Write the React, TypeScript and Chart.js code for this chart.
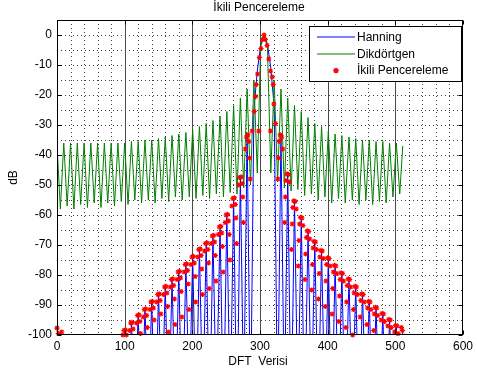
import React, { useEffect, useRef } from 'react';
import { Chart, registerables } from 'chart.js';

Chart.register(...registerables);

// ---- text ----
const TITLE = 'İkili Pencereleme';
const X_LABEL = 'DFT  Verisi';
const Y_LABEL = 'dB';
const SERIES_NAMES = ['Hanning', 'Dikdörtgen', 'İkili Pencereleme'];

// ---- axis ticks ----
const xTicks = [0, 100, 200, 300, 400, 500, 600];
const yTicks = [0, -10, -20, -30, -40, -50, -60, -70, -80, -90, -100];
const xMinorGrid = [20, 40, 60, 80, 120, 140, 160, 180, 220, 240, 260, 280, 320, 340, 360, 380, 420, 440, 460, 480, 520, 540, 560, 580];
const yMinorGrid = [0, -5, -10, -15, -20, -25, -30, -35, -40, -45, -50, -55, -60, -65, -70, -75, -80, -85, -90, -95];

// ---- DFT bins (sidelobe peaks and nulls) ----
const bins = [
  0, 5, 10, 15, 20, 25, 30, 35, 40, 45, 50, 55, 60, 65, 70, 75, 80, 85, 90, 95,
  100, 105, 110, 115, 120, 125, 130, 135, 140, 145, 150, 155, 160, 165, 170, 175, 180, 185,
  190.5, 195.5, 200.5, 205.5, 210.5, 215.5, 220.5, 225.5, 230.5, 235.5,
  241, 246, 251, 256, 261, 266, 271, 276, 281, 286, 291, 296, 301, 306, 311, 316, 321, 326,
  331, 336, 341, 346, 351, 356, 361, 366, 371, 376, 381, 386, 391, 396, 401, 406, 411, 416, 421, 426,
  431.5, 436.5, 441.5, 446.5, 451.5, 456.5, 461.5, 466.5, 471.5, 476.5, 481.5, 486.5, 491.5, 496.5, 501.5, 506.5,
  511,
];

// Dikdörtgen (rectangular window), dB
const rectDb = [
  -36.5, -58, -36, -57, -36, -58, -36, -56.5, -36, -57.5, -36, -56, -36, -57.5, -36, -56, -36, -57, -36, -55.5,
  -36, -56.5, -35.5, -55, -35.5, -56, -35, -55, -35, -56, -34.5, -54.5, -34, -55.5, -33.5, -54, -33, -55,
  -32.5, -54, -31.5, -54.5, -30.5, -53.5, -29.5, -54.5, -28.5, -53,
  -27, -54, -25.5, -52.5, -23.5, -53, -21, -51, -18, -50, -15, -46, -3.9, 0, -3.9, -46, -15, -49,
  -18, -51, -21, -52, -23.5, -51.5, -25.5, -53.5, -27.5, -53, -29.5, -55, -30.5, -54, -32, -56, -33, -54.5, -33.5, -56,
  -34, -55, -34.5, -56.5, -35, -55, -35, -56.5, -35.5, -55.5, -35.5, -56, -36, -54, -36, -53,
  -37,
];

// Hanning window, dB
const hannDb = [
  -99, -128, -104, -124, -107, -131, -109, -126, -110, -133, -109, -127, -108, -130, -106, -125, -104, -132, -101, -127,
  -98, -131, -95.5, -124, -93, -129, -91, -126, -88.5, -133, -86, -125, -83.5, -130, -81, -127, -78.5, -132,
  -76, -124, -73.5, -129, -71, -126, -69, -131, -66.5, -125,
  -63.5, -130, -59.5, -127, -54, -132, -47, -124, -33, -129, -25, -12, -3.5, 0, -3, -11, -24, -128,
  -33, -125, -46, -131, -55, -126, -60.5, -130, -65, -124, -68.5, -129, -71.5, -127, -74, -132, -76.5, -125, -79, -130,
  -81, -126, -83.5, -131, -86, -124, -88.5, -129, -90.5, -127, -92.5, -132, -94.5, -125, -96.5, -130,
  -98,
];

// İkili Pencereleme (double windowing) samples [bin, dB]
const dualPoints: [number, number][] = [
  [0, -97.7], [2, -99.5], [7, -99],
  [97.5, -100], [99, -98.5], [101, -98.3], [102.5, -100],
  [107.5, -98.5], [109, -96], [111, -95.8], [112.5, -98],
  [117.5, -96], [119, -93.5], [121, -93.3], [122.5, -95.5], [123.5, -99.5],
  [127.5, -94], [129, -91.5], [131, -91.3], [132.5, -93.5], [133.5, -97.5],
  [137.5, -91.5], [139, -89], [141, -88.8], [142.5, -91], [143.5, -95],
  [147.5, -89], [149, -86.5], [151, -86.3], [152.5, -88.5], [153.5, -93],
  [157.5, -86.5], [159, -84], [161, -83.8], [162.5, -86], [163.5, -90.5], [164.5, -99],
  [167.5, -84], [169, -81.5], [171, -81.3], [172.5, -83.5], [173.5, -88], [174.5, -96.5],
  [177.5, -81.5], [179, -79], [181, -78.8], [182.5, -81], [183.5, -85.5], [184.5, -94],
  [188, -79], [189.5, -76.5], [191.5, -76.3], [193, -78.5], [194, -83], [195, -91.5],
  [198, -76.5], [199.5, -74], [201.5, -73.8], [203, -76], [204, -80.5], [205, -89],
  [208, -74], [209.5, -71.5], [211.5, -71.3], [213, -73.5], [214, -78], [215, -86.5],
  [218, -72], [219.5, -69.5], [221.5, -69.3], [223, -71.5], [224, -76], [225, -84.5],
  [228, -69.5], [229.5, -67], [231.5, -66.8], [233, -69], [234, -73.5], [235, -82],
  [238.5, -66.5], [240, -64], [242, -63.8], [243.5, -66], [244.5, -70.5], [245.5, -79],
  [248.5, -62.5], [250, -60], [252, -59.8], [253.5, -62], [254.5, -66.5], [255.5, -75],
  [258.5, -57], [260, -54.5], [262, -54.3], [263.5, -56.5], [264.5, -61], [265.5, -69.5],
  [268.5, -50], [270, -47.5], [272, -47.3], [273.5, -49.5], [274.5, -54], [275.5, -62.5],
  [278.5, -38], [280, -34], [282, -33.3], [283.5, -35.5], [284.5, -41], [285.5, -48],
  [288.5, -32], [291.5, -25.5], [293.5, -20.5], [294.5, -16.5], [296.5, -13], [298.5, -32],
  [299, -7.5], [301.5, -4.5], [304, -1.5], [306, 0], [308, -1.5], [310.5, -3.5], [313, -8],
  [315.5, -12], [315.5, -32], [318, -14], [319.5, -16.5], [320.5, -23], [323, -29.5],
  [326.5, -48], [327.5, -41], [328.5, -35.5], [330, -33.3], [332, -34], [333.5, -38],
  [336.5, -62.5], [337.5, -54], [338.5, -48.5], [340, -46.3], [342, -46.5], [343.5, -49],
  [346.5, -71.5], [347.5, -63], [348.5, -57.5], [350, -55.3], [352, -55.5], [353.5, -58],
  [356.5, -77], [357.5, -68.5], [358.5, -63], [360, -60.8], [362, -61], [363.5, -63.5],
  [366.5, -81.5], [367.5, -73], [368.5, -67.5], [370, -65.3], [372, -65.5], [373.5, -68],
  [376.5, -85], [377.5, -76.5], [378.5, -71], [380, -68.8], [382, -69], [383.5, -71.5],
  [386.5, -88], [387.5, -79.5], [388.5, -74], [390, -71.8], [392, -72], [393.5, -74.5],
  [396.5, -90.5], [397.5, -82], [398.5, -76.5], [400, -74.3], [402, -74.5], [403.5, -77],
  [406.5, -93], [407.5, -84.5], [408.5, -79], [410, -76.8], [412, -77], [413.5, -79.5],
  [416.5, -95.5], [417.5, -87], [418.5, -81.5], [420, -79.3], [422, -79.5], [423.5, -82],
  [427, -97.5], [428, -89], [429, -83.5], [430.5, -81.3], [432.5, -81.5], [434, -84],
  [437, -100], [438, -91.5], [439, -86], [440.5, -83.8], [442.5, -84], [444, -86.5],
  [448, -94], [449, -88.5], [450.5, -86.3], [452.5, -86.5], [454, -89],
  [458, -96.5], [459, -91], [460.5, -88.8], [462.5, -89], [464, -91.5],
  [468, -98.5], [469, -93], [470.5, -90.8], [472.5, -91], [474, -93.5],
  [479, -95], [480.5, -92.8], [482.5, -93], [484, -95.5],
  [489, -97], [490.5, -94.8], [492.5, -95], [494, -97.5],
  [499, -99], [500.5, -96.8], [502.5, -97], [504, -99.5],
  [509, -97.5], [510.5, -98.5],
];

const BLUE = '#0000ff';
const GREEN = '#008000';
const RED = '#ff0000';
const FONT = '"Liberation Sans", Arial, Helvetica, sans-serif';

export default function App() {
  const canvasRef = useRef<HTMLCanvasElement>(null);

  useEffect(() => {
    const canvas = canvasRef.current;
    if (!canvas) return;

    const matlabPlugin = {
      id: 'matlabLook',
      beforeDatasetsDraw(chart: any) {
        const { ctx, chartArea: a, scales } = chart;
        const xs = scales.x;
        const ys = scales.y;
        ctx.save();
        ctx.lineWidth = 1;
        ctx.strokeStyle = 'rgba(0,0,0,0.75)';
        ctx.setLineDash([1, 3]);
        xMinorGrid.forEach((v) => {
          const p = Math.round(xs.getPixelForValue(v)) + 0.5;
          ctx.beginPath();
          ctx.moveTo(p, a.top);
          ctx.lineTo(p, a.bottom);
          ctx.stroke();
        });
        yMinorGrid.forEach((v) => {
          const p = Math.round(ys.getPixelForValue(v)) + 0.5;
          ctx.beginPath();
          ctx.moveTo(a.left, p);
          ctx.lineTo(a.right, p);
          ctx.stroke();
        });
        ctx.setLineDash([]);
        ctx.strokeStyle = '#4a4a4a';
        xTicks.forEach((v) => {
          if (v === 0 || v === 600) return;
          const p = Math.round(xs.getPixelForValue(v)) + 0.5;
          ctx.beginPath();
          ctx.moveTo(p, a.top);
          ctx.lineTo(p, a.bottom);
          ctx.stroke();
        });
        ctx.restore();
      },
      afterDatasetsDraw(chart: any) {
        const { ctx, chartArea: a, scales } = chart;
        const xs = scales.x;
        const ys = scales.y;
        ctx.save();
        ctx.setLineDash([]);
        ctx.lineWidth = 1;
        ctx.strokeStyle = '#000';
        const L = Math.round(a.left) + 0.5;
        const R = Math.round(a.right) - 0.5;
        const T = Math.round(a.top) + 0.5;
        const B = Math.round(a.bottom) - 0.5;
        ctx.strokeRect(L, T, R - L, B - T);
        const tl = 4;
        yTicks.forEach((v) => {
          const p = Math.round(ys.getPixelForValue(v)) + 0.5;
          ctx.beginPath();
          ctx.moveTo(L, p); ctx.lineTo(L + tl, p);
          ctx.moveTo(R, p); ctx.lineTo(R - tl, p);
          ctx.stroke();
        });
        xTicks.forEach((v) => {
          const p = Math.round(xs.getPixelForValue(v)) + 0.5;
          ctx.beginPath();
          ctx.moveTo(p, B); ctx.lineTo(p, B - tl);
          ctx.moveTo(p, T); ctx.lineTo(p, T + tl);
          ctx.stroke();
        });

        // legend
        const lx = 309.5, ly = 26.5, lw = 152, lh = 55;
        ctx.fillStyle = '#fff';
        ctx.fillRect(lx, ly, lw, lh);
        ctx.strokeStyle = '#000';
        ctx.strokeRect(lx, ly, lw, lh);
        const rows = [37, 54, 70.5];
        const ds = chart.data.datasets;
        const legendOrder = [2, 1, 0];
        ctx.font = `12px ${FONT}`;
        ctx.textBaseline = 'middle';
        ctx.textAlign = 'left';
        legendOrder.forEach((di, i) => {
          const d = ds[di];
          const y = rows[i];
          if (d.showLine) {
            ctx.strokeStyle = d.borderColor;
            ctx.lineWidth = 1.2;
            ctx.beginPath();
            ctx.moveTo(317, y);
            ctx.lineTo(355, y);
            ctx.stroke();
          } else {
            ctx.strokeStyle = d.borderColor;
            ctx.lineWidth = 1.3;
            const cx = 336, r = 2.8;
            ctx.beginPath();
            ctx.moveTo(cx - r, y); ctx.lineTo(cx + r, y);
            ctx.moveTo(cx, y - r); ctx.lineTo(cx, y + r);
            const q = r * 0.7071;
            ctx.moveTo(cx - q, y - q); ctx.lineTo(cx + q, y + q);
            ctx.moveTo(cx - q, y + q); ctx.lineTo(cx + q, y - q);
            ctx.stroke();
          }
          ctx.fillStyle = '#000';
          ctx.fillText(d.label, 357, y + 0.5);
        });

        // titles
        const cxPlot = (a.left + a.right) / 2;
        ctx.fillStyle = '#000';
        ctx.textAlign = 'center';
        ctx.textBaseline = 'alphabetic';
        ctx.font = `12px ${FONT}`;
        ctx.fillText(TITLE, cxPlot - 1, 11);
        ctx.fillText(X_LABEL, cxPlot - 2, 365);
        ctx.save();
        ctx.translate(17, (a.top + a.bottom) / 2);
        ctx.rotate(-Math.PI / 2);
        ctx.fillText(Y_LABEL, 0, 0);
        ctx.restore();
        ctx.restore();
      },
    };

    const chart = new Chart(canvas, {
      type: 'scatter',
      data: {
        datasets: [
          {
            label: SERIES_NAMES[2],
            data: dualPoints.map(([x, y]) => ({ x, y })),
            showLine: false,
            pointStyle: 'star',
            pointRadius: 2.6,
            pointBorderWidth: 1.2,
            borderColor: RED,
            backgroundColor: RED,
            pointBorderColor: RED,
            pointBackgroundColor: RED,
            order: 0,
            clip: 6,
          } as any,
          {
            label: SERIES_NAMES[1],
            data: bins.map((x, i) => ({ x, y: rectDb[i] })),
            showLine: true,
            borderColor: GREEN,
            backgroundColor: GREEN,
            borderWidth: 1,
            pointRadius: 0,
            tension: 0,
            order: 1,
          } as any,
          {
            label: SERIES_NAMES[0],
            data: bins.map((x, i) => ({ x, y: hannDb[i] })),
            showLine: true,
            borderColor: BLUE,
            backgroundColor: BLUE,
            borderWidth: 1,
            pointRadius: 0,
            tension: 0,
            order: 2,
          } as any,
        ],
      },
      options: {
        animation: false,
        responsive: false,
        maintainAspectRatio: false,
        events: [],
        layout: { padding: { left: 0, right: 14, top: 20, bottom: 0 } },
        plugins: {
          legend: { display: false },
          title: { display: false },
          tooltip: { enabled: false },
        },
        scales: {
          x: {
            type: 'linear',
            min: 0,
            max: 600,
            afterFit: (s: any) => { s.height = 40; },
            grid: { display: false, drawTicks: false },
            border: { display: false },
            ticks: {
              stepSize: 100,
              autoSkip: false,
              maxRotation: 0,
              includeBounds: false,
              padding: 4,
              color: '#000',
              font: { family: FONT, size: 12 },
              callback: (v: any) => String(v),
            },
          },
          y: {
            type: 'linear',
            min: -100,
            max: 5,
            afterFit: (s: any) => { s.width = 57; },
            grid: { display: false, drawTicks: false },
            border: { display: false },
            ticks: {
              stepSize: 10,
              autoSkip: false,
              includeBounds: false,
              padding: 5,
              color: '#000',
              font: { family: FONT, size: 12 },
              callback: (v: any) => String(v),
            },
          },
        },
      } as any,
      plugins: [matlabPlugin],
    });

    return () => chart.destroy();
  }, []);

  return (
    <div style={{ position: 'absolute', left: 0, top: 0, width: 477, height: 375, background: '#fff' }}>
      <canvas ref={canvasRef} width={477} height={375} style={{ display: 'block', width: 477, height: 375 }} />
    </div>
  );
}
